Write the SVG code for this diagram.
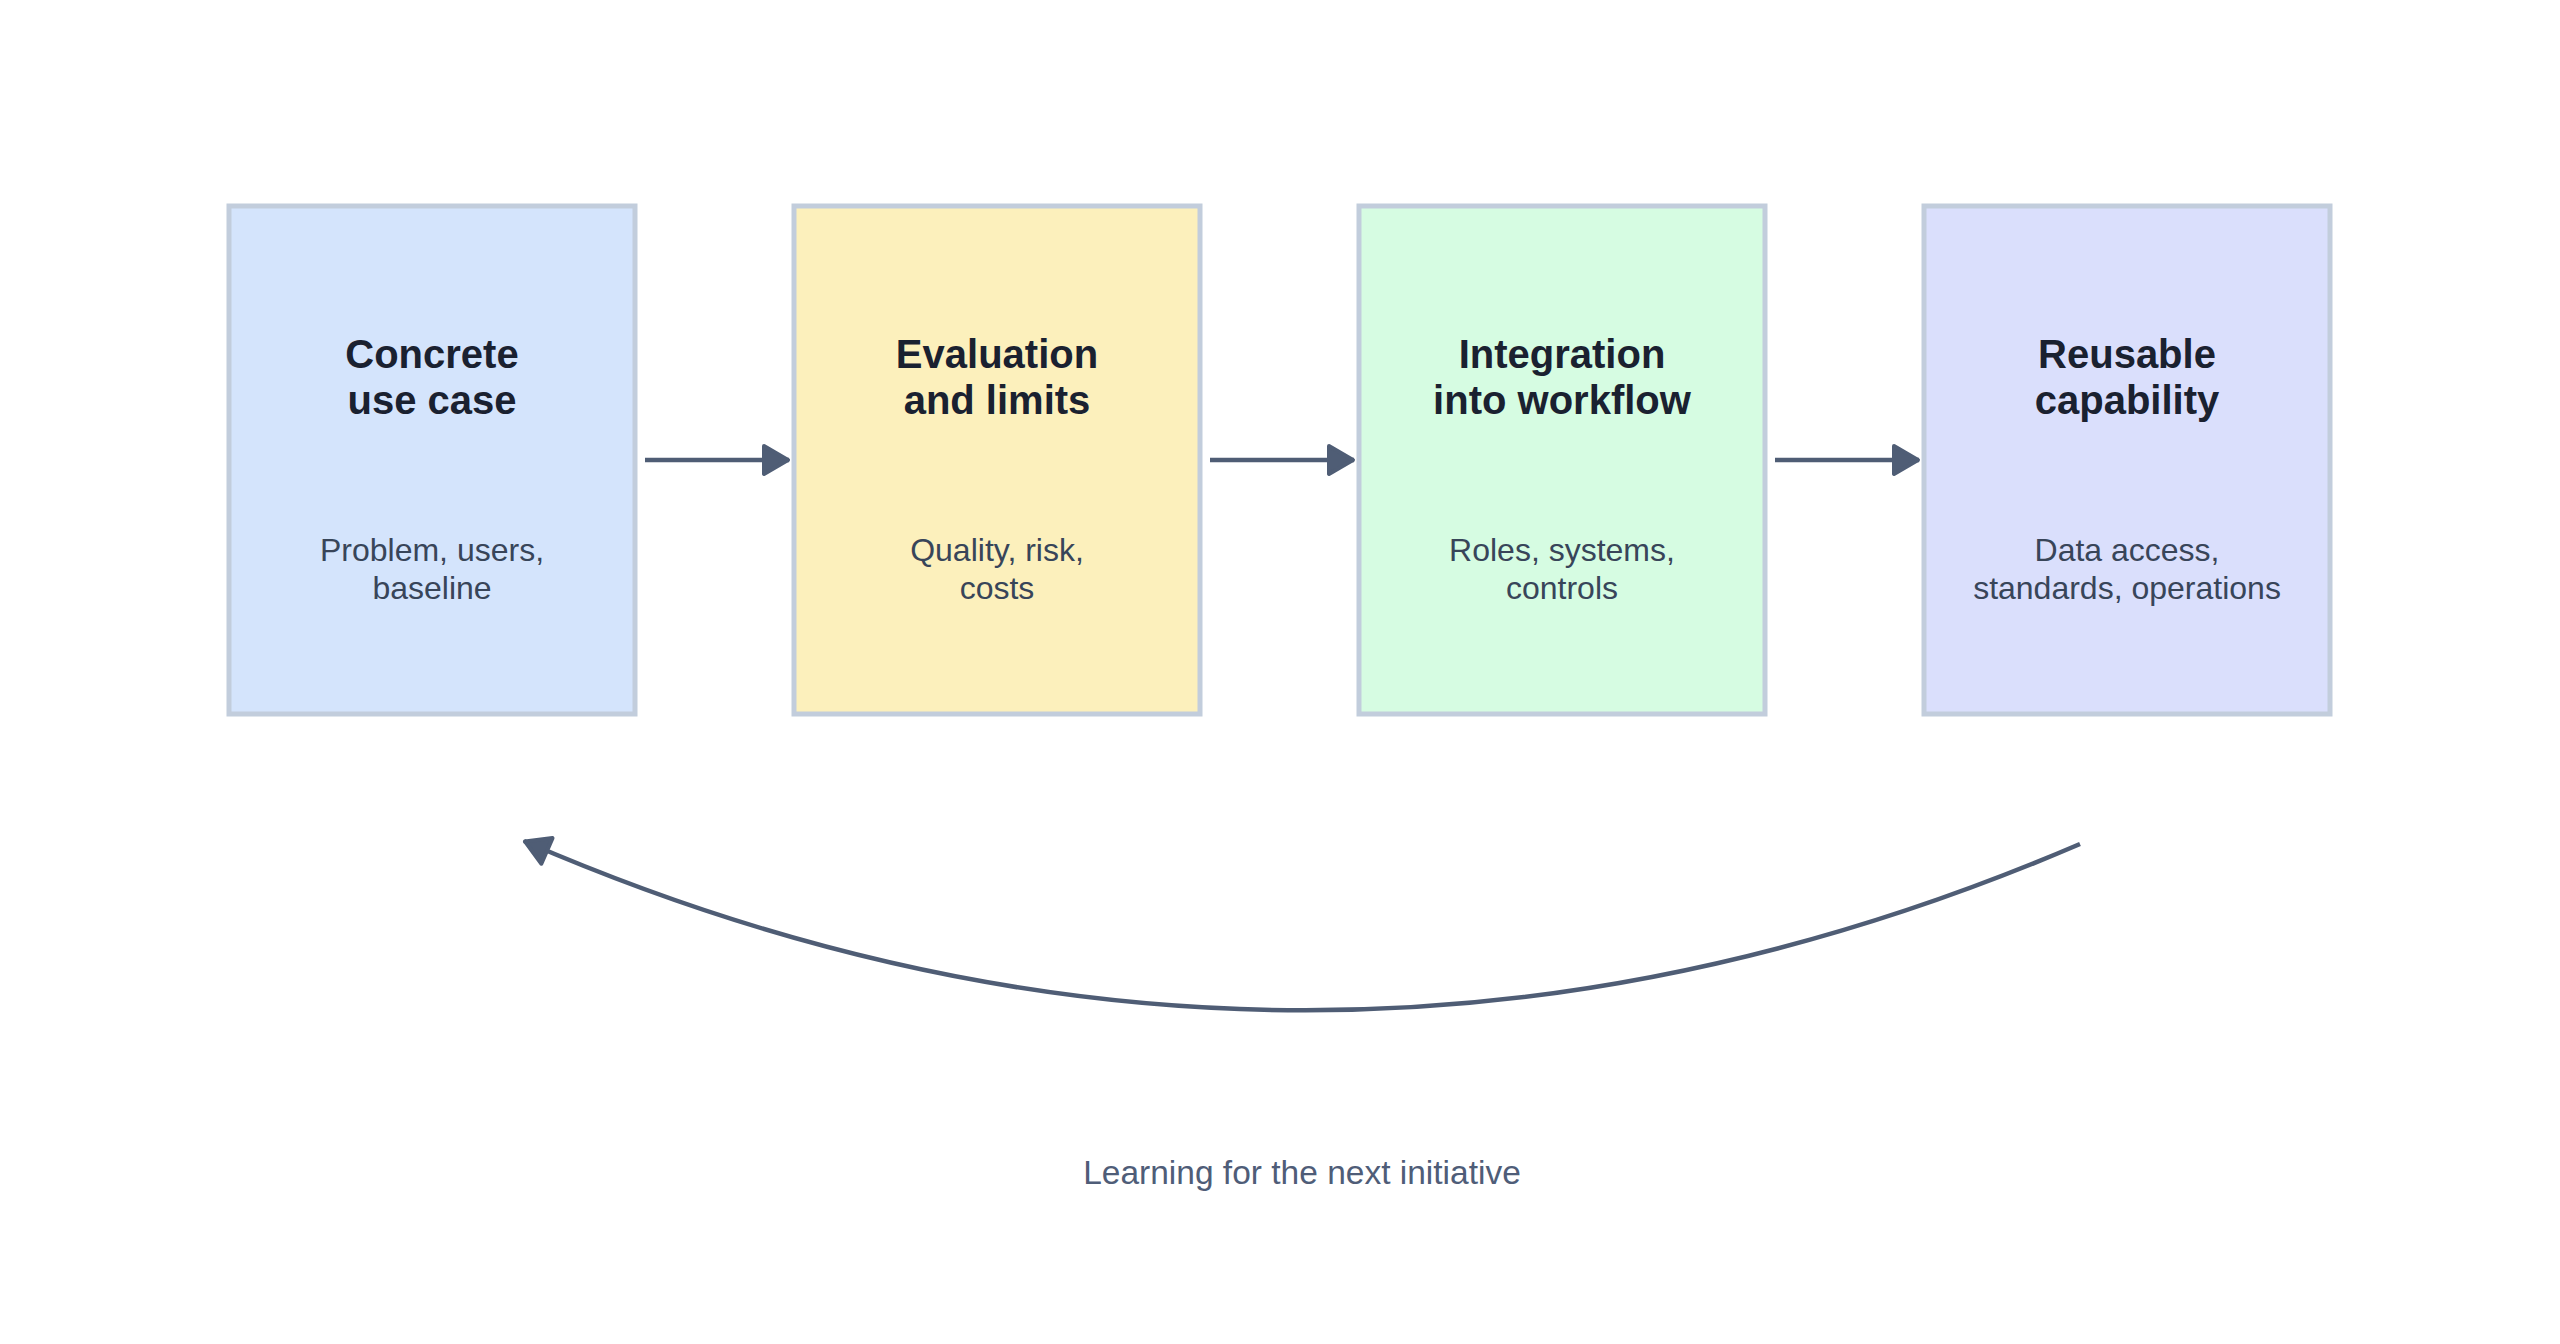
<svg xmlns="http://www.w3.org/2000/svg" width="2560" height="1344" viewBox="0 0 2560 1344">
<style>
.box{stroke:#c2cddc;stroke-width:5}
.title{font-family:"Liberation Sans",Arial,sans-serif;font-weight:bold;font-size:40px;fill:#1a2130;text-anchor:middle}
.sub{font-family:"Liberation Sans",Arial,sans-serif;font-size:32px;fill:#384559;text-anchor:middle}
.lbl{font-family:"Liberation Sans",Arial,sans-serif;font-size:33.5px;fill:#4f5d78;text-anchor:middle}
.conn{fill:none;stroke:#4f5d75;stroke-width:4.5}
</style>
<defs>
<marker id="ah" viewBox="0 0 30 34" refX="28" refY="17" markerWidth="30" markerHeight="34" markerUnits="userSpaceOnUse" orient="auto">
<path d="M3,3 L27,17 L3,31 Z" fill="#4f5d75" stroke="#4f5d75" stroke-width="4" stroke-linejoin="round"/>
</marker>
</defs>
<rect width="2560" height="1344" fill="#ffffff"/>
<g id="connectors">
<path class="conn" d="M645,460 L789,460" marker-end="url(#ah)"/>
<path class="conn" d="M1210,460 L1354,460" marker-end="url(#ah)"/>
<path class="conn" d="M1775,460 L1919,460" marker-end="url(#ah)"/>
<path class="conn" d="M2080,844 Q1302,1178 524,841" marker-end="url(#ah)"/>
</g>
<g id="node1">
<rect class="box" x="229" y="206" width="406" height="508" fill="#d4e4fc"/>
<text class="title" x="432" y="368">Concrete</text>
<text class="title" x="432" y="414">use case</text>
<text class="sub" x="432" y="561">Problem, users,</text>
<text class="sub" x="432" y="599">baseline</text>
</g>
<g id="node2">
<rect class="box" x="794" y="206" width="406" height="508" fill="#fcf0bc"/>
<text class="title" x="997" y="368">Evaluation</text>
<text class="title" x="997" y="414">and limits</text>
<text class="sub" x="997" y="561">Quality, risk,</text>
<text class="sub" x="997" y="599">costs</text>
</g>
<g id="node3">
<rect class="box" x="1359" y="206" width="406" height="508" fill="#d6fce2"/>
<text class="title" x="1562" y="368">Integration</text>
<text class="title" x="1562" y="414">into workflow</text>
<text class="sub" x="1562" y="561">Roles, systems,</text>
<text class="sub" x="1562" y="599">controls</text>
</g>
<g id="node4">
<rect class="box" x="1924" y="206" width="406" height="508" fill="#dadffc"/>
<text class="title" x="2127" y="368">Reusable</text>
<text class="title" x="2127" y="414">capability</text>
<text class="sub" x="2127" y="561">Data access,</text>
<text class="sub" x="2127" y="599">standards, operations</text>
</g>
<g id="label">
<text class="lbl" x="1302" y="1184">Learning for the next initiative</text>
</g>
</svg>
